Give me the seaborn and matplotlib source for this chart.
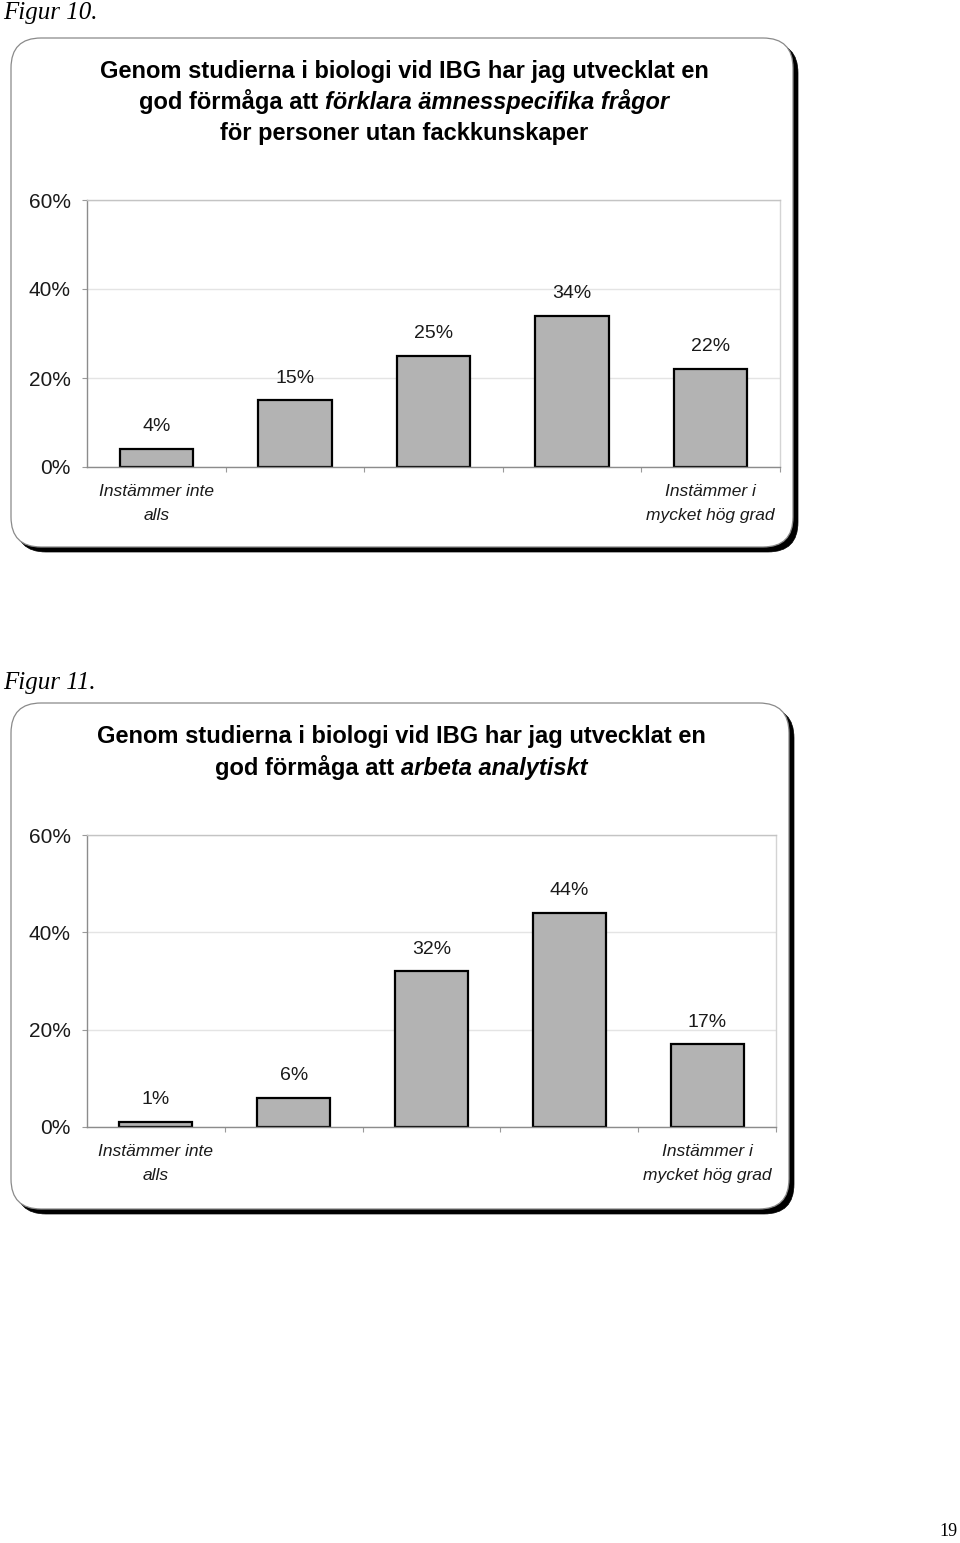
import matplotlib
matplotlib.use("Agg")
import matplotlib.pyplot as plt
import seaborn as sns
import pandas as pd
from matplotlib.patches import FancyBboxPatch
from matplotlib.ticker import FixedLocator, FuncFormatter

sns.set_theme(style="white")
plt.rcParams['font.family'] = ['Liberation Sans', 'DejaVu Sans']

# ---------------- data ----------------
categories = ["1", "2", "3", "4", "5"]
xtick_labels = ["Instämmer inte\nalls", "", "", "", "Instämmer i\nmycket hög grad"]
fig10_values = [4, 15, 25, 34, 22]
fig11_values = [1, 6, 32, 44, 17]
yticks = [0, 20, 40, 60]

fig10_caption = "Figur 10."
fig11_caption = "Figur 11."
fig10_title = [
    [("Genom studierna i biologi vid IBG har jag utvecklat en", "normal")],
    [("god förmåga att ", "normal"), ("förklara ämnesspecifika frågor", "italic")],
    [("för personer utan fackkunskaper", "normal")],
]
fig11_title = [
    [("Genom studierna i biologi vid IBG har jag utvecklat en", "normal")],
    [("god förmåga att ", "normal"), ("arbeta analytiskt", "italic")],
]
page_number = "19"

# ---------------- layout ----------------
W, H = 960, 1543
fig = plt.figure(figsize=(W / 100, H / 100), dpi=100)
fig.patch.set_facecolor("white")

bg = fig.add_axes([0, 0, 1, 1], zorder=-5)
bg.set_xlim(0, W)
bg.set_ylim(H, 0)
bg.axis("off")

TXT = "#1a1a1a"
BAR = "#b3b3b3"


def draw_box(x0, y0, x1, y1):
    shadow = FancyBboxPatch((x0 + 5, y0 + 5), x1 - x0, y1 - y0,
                            boxstyle="round,pad=0,rounding_size=30",
                            facecolor="black", edgecolor="black", lw=0.5)
    box = FancyBboxPatch((x0, y0), x1 - x0, y1 - y0,
                         boxstyle="round,pad=0,rounding_size=30",
                         facecolor="white", edgecolor="#8a8a8a", lw=0.9)
    bg.add_patch(shadow)
    bg.add_patch(box)


def draw_title(lines, cx, y_first, spacing, size=17):
    renderer = fig.canvas.get_renderer()
    for li, segs in enumerate(lines):
        y = y_first + li * spacing + 8  # baseline
        texts = []
        widths = []
        for s, style in segs:
            t = bg.text(0, y, s, fontsize=size, fontweight="bold", fontstyle=style,
                        ha="left", va="baseline", color="black")
            bb = t.get_window_extent(renderer=renderer)
            texts.append(t)
            widths.append(bb.width)
        total = sum(widths)
        x = cx - total / 2
        for t, w in zip(texts, widths):
            t.set_x(x)
            x += w


def draw_chart(values, left, top, right, bottom):
    ax = fig.add_axes([left / W, 1 - bottom / H, (right - left) / W, (bottom - top) / H])
    df = pd.DataFrame({"cat": categories, "val": values})
    sns.barplot(data=df, x="cat", y="val", ax=ax, color=BAR, saturation=1,
                edgecolor="black", linewidth=1.6, width=0.53, errorbar=None)
    ax.set_xlim(-0.5, len(categories) - 0.5)
    ax.set_ylim(0, 60)
    ax.set_xlabel("")
    ax.set_ylabel("")
    ax.set_facecolor("white")

    ax.yaxis.set_major_locator(FixedLocator(yticks))
    ax.yaxis.set_major_formatter(FuncFormatter(lambda v, p: f"{int(v)}%"))
    ax.yaxis.grid(True, color="#e4e4e4", lw=1.0)
    ax.set_axisbelow(True)

    ax.set_xticks(range(len(categories)))
    ax.set_xticklabels(xtick_labels, fontstyle="italic", fontsize=12.5,
                       color=TXT, linespacing=1.75)
    ax.xaxis.set_minor_locator(FixedLocator([i + 0.5 for i in range(len(categories))]))
    ax.tick_params(axis="x", which="major", length=0, pad=12)
    ax.tick_params(axis="x", which="minor", length=3.6, color="#9a9a9a", width=0.8,
                   bottom=True)
    ax.tick_params(axis="y", which="major", length=3.6, color="#9a9a9a", width=0.8,
                   left=True, pad=8, labelsize=15, labelcolor=TXT)

    for side in ["left", "bottom"]:
        ax.spines[side].set_color("#8c8c8c")
        ax.spines[side].set_linewidth(1.0)
    ax.spines["top"].set_color("#c4c4c4")
    ax.spines["top"].set_linewidth(1.0)
    ax.spines["right"].set_color("#d4d4d4")
    ax.spines["right"].set_linewidth(1.0)

    for i, v in enumerate(values):
        ax.annotate(f"{v}%", (i, v), xytext=(0, 16), textcoords="offset points",
                    ha="center", va="center", fontsize=14, color=TXT)
    return ax


# ---------------- Figure 10 ----------------
bg.text(3, 13, fig10_caption, fontsize=18, fontstyle="italic",
        family=["Liberation Serif", "DejaVu Serif"], ha="left", va="center", color="black")
draw_box(11, 38, 793, 547)
draw_title(fig10_title, 404, 70, 31)
draw_chart(fig10_values, 87, 200, 780, 467)

# ---------------- Figure 11 ----------------
bg.text(3, 683, fig11_caption, fontsize=18, fontstyle="italic",
        family=["Liberation Serif", "DejaVu Serif"], ha="left", va="center", color="black")
draw_box(11, 703, 789, 1209)
draw_title(fig11_title, 401, 735, 32)
draw_chart(fig11_values, 87, 835, 776, 1127)

# page number
bg.text(958, 1532, page_number, fontsize=13,
        family=["Liberation Serif", "DejaVu Serif"], ha="right", va="center", color="black")

fig.savefig("out.png", dpi=100)
